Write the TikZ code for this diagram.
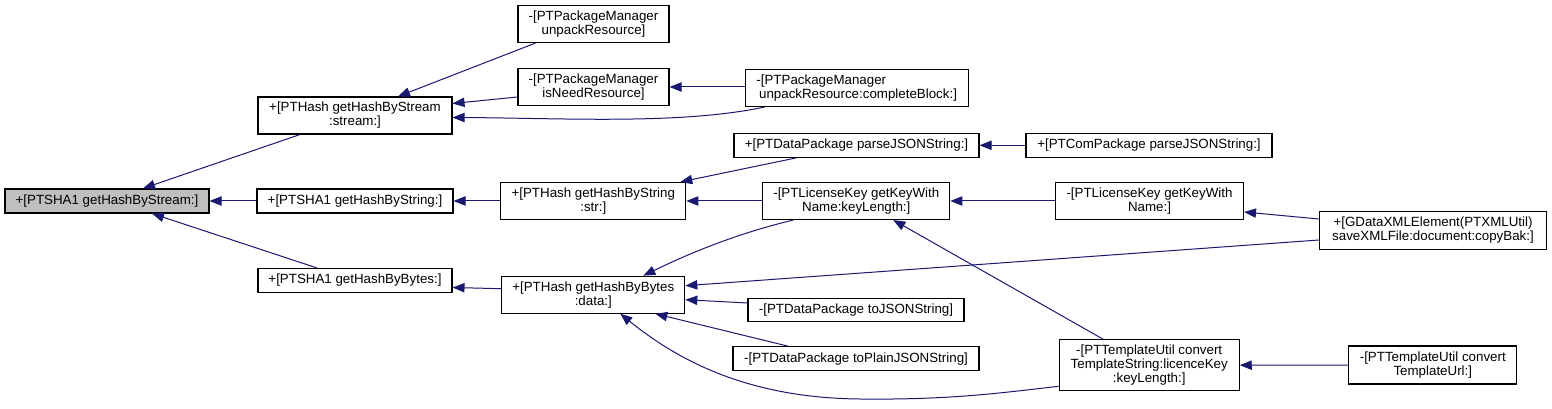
\documentclass[tikz,border=0pt]{standalone}
\usepackage{fontspec}
\setmainfont{Liberation Sans}
\usetikzlibrary{calc,arrows.meta}
\definecolor{edgeblue}{HTML}{191970}
\definecolor{rootgray}{HTML}{BFBFBF}
\begin{document}
\begin{tikzpicture}[x=0.75pt, y=-0.75pt, every node/.style={font=\fontsize{10}{10.5}\selectfont},
    sz/.style 2 args={minimum width=#1*0.75pt, minimum height=#2*0.75pt}]
  \tikzstyle{fn} = [draw, line width=0.8pt, rectangle, align=center, inner sep=1pt]
  \tikzstyle{call} = [<-, >={Triangle[length=9pt, width=7pt]}, color=edgeblue, line width=0.75pt]
  \useasboundingbox (0,0) rectangle (1552,409);

  % nodes
  \node[fn, fill=rootgray, sz={204}{24}] (root) at (107,201) {+[PTSHA1 getHashByStream:]};
  \node[fn, sz={194}{37}] (hstream) at (355,115.5) {+[PTHash getHashByStream\\:stream:]};
  \node[fn, sz={196}{24}] (sstring) at (355,201) {+[PTSHA1 getHashByString:]};
  \node[fn, sz={194}{24}] (sbytes) at (355,280.5) {+[PTSHA1 getHashByBytes:]};
  \node[fn, sz={151}{37}] (unpack) at (593.5,24) {-[PTPackageManager\\unpackResource]};
  \node[fn, sz={151}{37}] (isneed) at (593.5,87) {-[PTPackageManager\\isNeedResource]};
  \node[fn, sz={223}{37}, align=left] (complete) at (856.7,88) {-[PTPackageManager\\\hspace*{0.2em}unpackResource:completeBlock:]};
  \node[fn, sz={185}{37}] (hstring) at (593.3,201) {+[PTHash getHashByString\\:str:]};
  \node[fn, sz={183}{37}] (hbytes) at (593.3,294.7) {+[PTHash getHashByBytes\\:data:]};
  \node[fn, sz={245}{24}] (dparse) at (856.5,145.3) {+[PTDataPackage parseJSONString:]};
  \node[fn, sz={187}{37}] (lkeylen) at (856.3,201) {-[PTLicenseKey getKeyWith\\Name:keyLength:]};
  \node[fn, sz={216}{23}] (tojson) at (856,310) {-[PTDataPackage toJSONString]};
  \node[fn, sz={246}{24}] (toplain) at (856,358.7) {-[PTDataPackage toPlainJSONString]};
  \node[fn, sz={246}{24}] (cparse) at (1149,145.3) {+[PTComPackage parseJSONString:]};
  \node[fn, sz={188}{37}] (lkey) at (1149.5,201) {-[PTLicenseKey getKeyWith\\Name:]};
  \node[fn, sz={227}{38}] (gdata) at (1433,230.5) {+[GDataXMLElement(PTXMLUtil)\\saveXMLFile:document:copyBak:]};
  \node[fn, sz={180}{51}] (tstring) at (1149.2,365.3) {-[PTTemplateUtil convert\\TemplateString:licenceKey\\:keyLength:]};
  \node[fn, sz={168}{38}] (turl) at (1432.8,365) {-[PTTemplateUtil convert\\TemplateUrl:]};

  % calls
  \draw[call] ($(root.north)+(36,0)$) -- ($(hstream.south)+(-55,0)$);
  \draw[call] (root) -- (sstring);
  \draw[call] ($(root.south)+(45,0)$) -- ($(sbytes.north)+(-38,0)$);
  \draw[call] ($(hstream.north)+(43,0)$) -- ($(unpack.south)+(-58,0)$);
  \draw[call] ($(hstream.east)+(0,-12)$) -- ($(isneed.west)+(0,10)$);
  \draw[call] ($(hstream.east)+(0,2)$) .. controls (560,118) and (680,125) .. ($(complete.south)+(-92,0)$);
  \draw[call] (isneed.east) -- (isneed.east -| complete.west);
  \draw[call] (sstring) -- (hstring);
  \draw[call] ($(sbytes.east)+(0,7)$) -- ($(hbytes.west)+(0,-6)$);
  \draw[call] ($(hstring.north)+(87,0)$) -- ($(dparse.south)+(-60,0)$);
  \draw[call] (hstring) -- (lkeylen);
  \draw[call] (dparse) -- (cparse);
  \draw[call] (lkeylen) -- (lkey);
  \draw[call] ($(lkeylen.south)+(37,0)$) -- ($(tstring.north)+(-46,0)$);
  \draw[call] ($(lkey.east)+(0,11)$) -- ($(gdata.west)+(0,-11.5)$);
  \draw[call] ($(hbytes.north)+(50,0)$) .. controls (688,254) and (735,234) .. ($(lkeylen.south)+(-63,0)$);
  \draw[call] ($(hbytes.east)+(0,-9)$) -- ($(gdata.west)+(0,9.5)$);
  \draw[call] ($(hbytes.east)+(0,5)$) -- ($(tojson.west)+(0,-7)$);
  \draw[call] ($(hbytes.south)+(62,0)$) -- ($(toplain.north)+(-68,0)$);
  \draw[call] ($(hbytes.south)+(27,0)$) .. controls (680,362) and (750,398) .. (860,399) .. controls (950,400) and (1000,393) .. ($(tstring.west)+(0,21)$);
  \draw[call] (tstring) -- (turl);
\end{tikzpicture}
\end{document}
